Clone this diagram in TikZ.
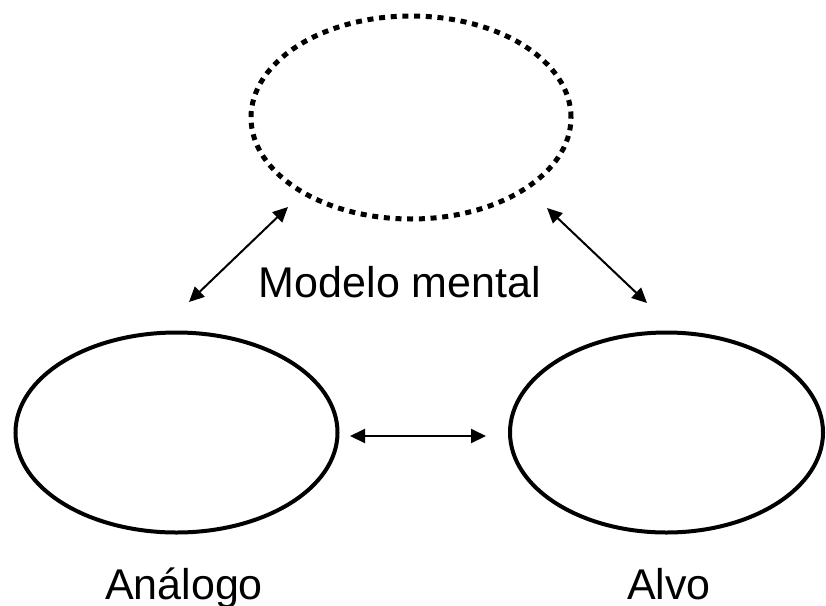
\documentclass[tikz,border=0pt]{standalone}
\usepackage{fontspec}
\setmainfont{Liberation Sans}
\usepackage{tikz}
\usetikzlibrary{shapes.geometric, arrows.meta}
\tikzset{
x=1pt, y=-1pt, % units in pixels of the page, y going down
dotty/.style={line width=5pt, dash pattern=on 6pt off 5.7pt}, % dotted outline of the mental model
link/.style={{Triangle[length=15pt,width=14pt]}-{Triangle[length=15pt,width=14pt]}, line width=2pt}, % two-way arrows
label text/.style={font=\fontsize{43}{50}\selectfont, inner sep=0pt, anchor=base},
}
\begin{document}
\begin{tikzpicture}
    \useasboundingbox (0,0) rectangle (826,605);

    % the three ellipses
    \node[ellipse, draw, dotty, inner sep=0pt, minimum width=320pt, minimum height=203pt] (modelo) at (411,117.5) {};
    \node[ellipse, draw, line width=4pt, inner sep=0pt, minimum width=322pt, minimum height=200pt] (analogo) at (176.5,432.5) {};
    \node[ellipse, draw, line width=4pt, inner sep=0pt, minimum width=313pt, minimum height=200pt] (alvo) at (666.5,432.5) {};

    % labels
    \node[label text] (modelolabel) at (400,297) {Modelo mental};
    \node[label text] (analogolabel) at (184,599) {Análogo};
    \node[label text] (alvolabel) at (669,599) {Alvo};

    % arrow ends
    \coordinate (la) at (189,302);
    \coordinate (lb) at (288,207);
    \coordinate (ra) at (547,208);
    \coordinate (rb) at (647,303);
    \coordinate (ma) at (350,436);
    \coordinate (mb) at (486,436);

    \draw[link] (la) -- (lb);
    \draw[link] (ra) -- (rb);
    \draw[link] (ma) -- (mb);
\end{tikzpicture}
\end{document}
